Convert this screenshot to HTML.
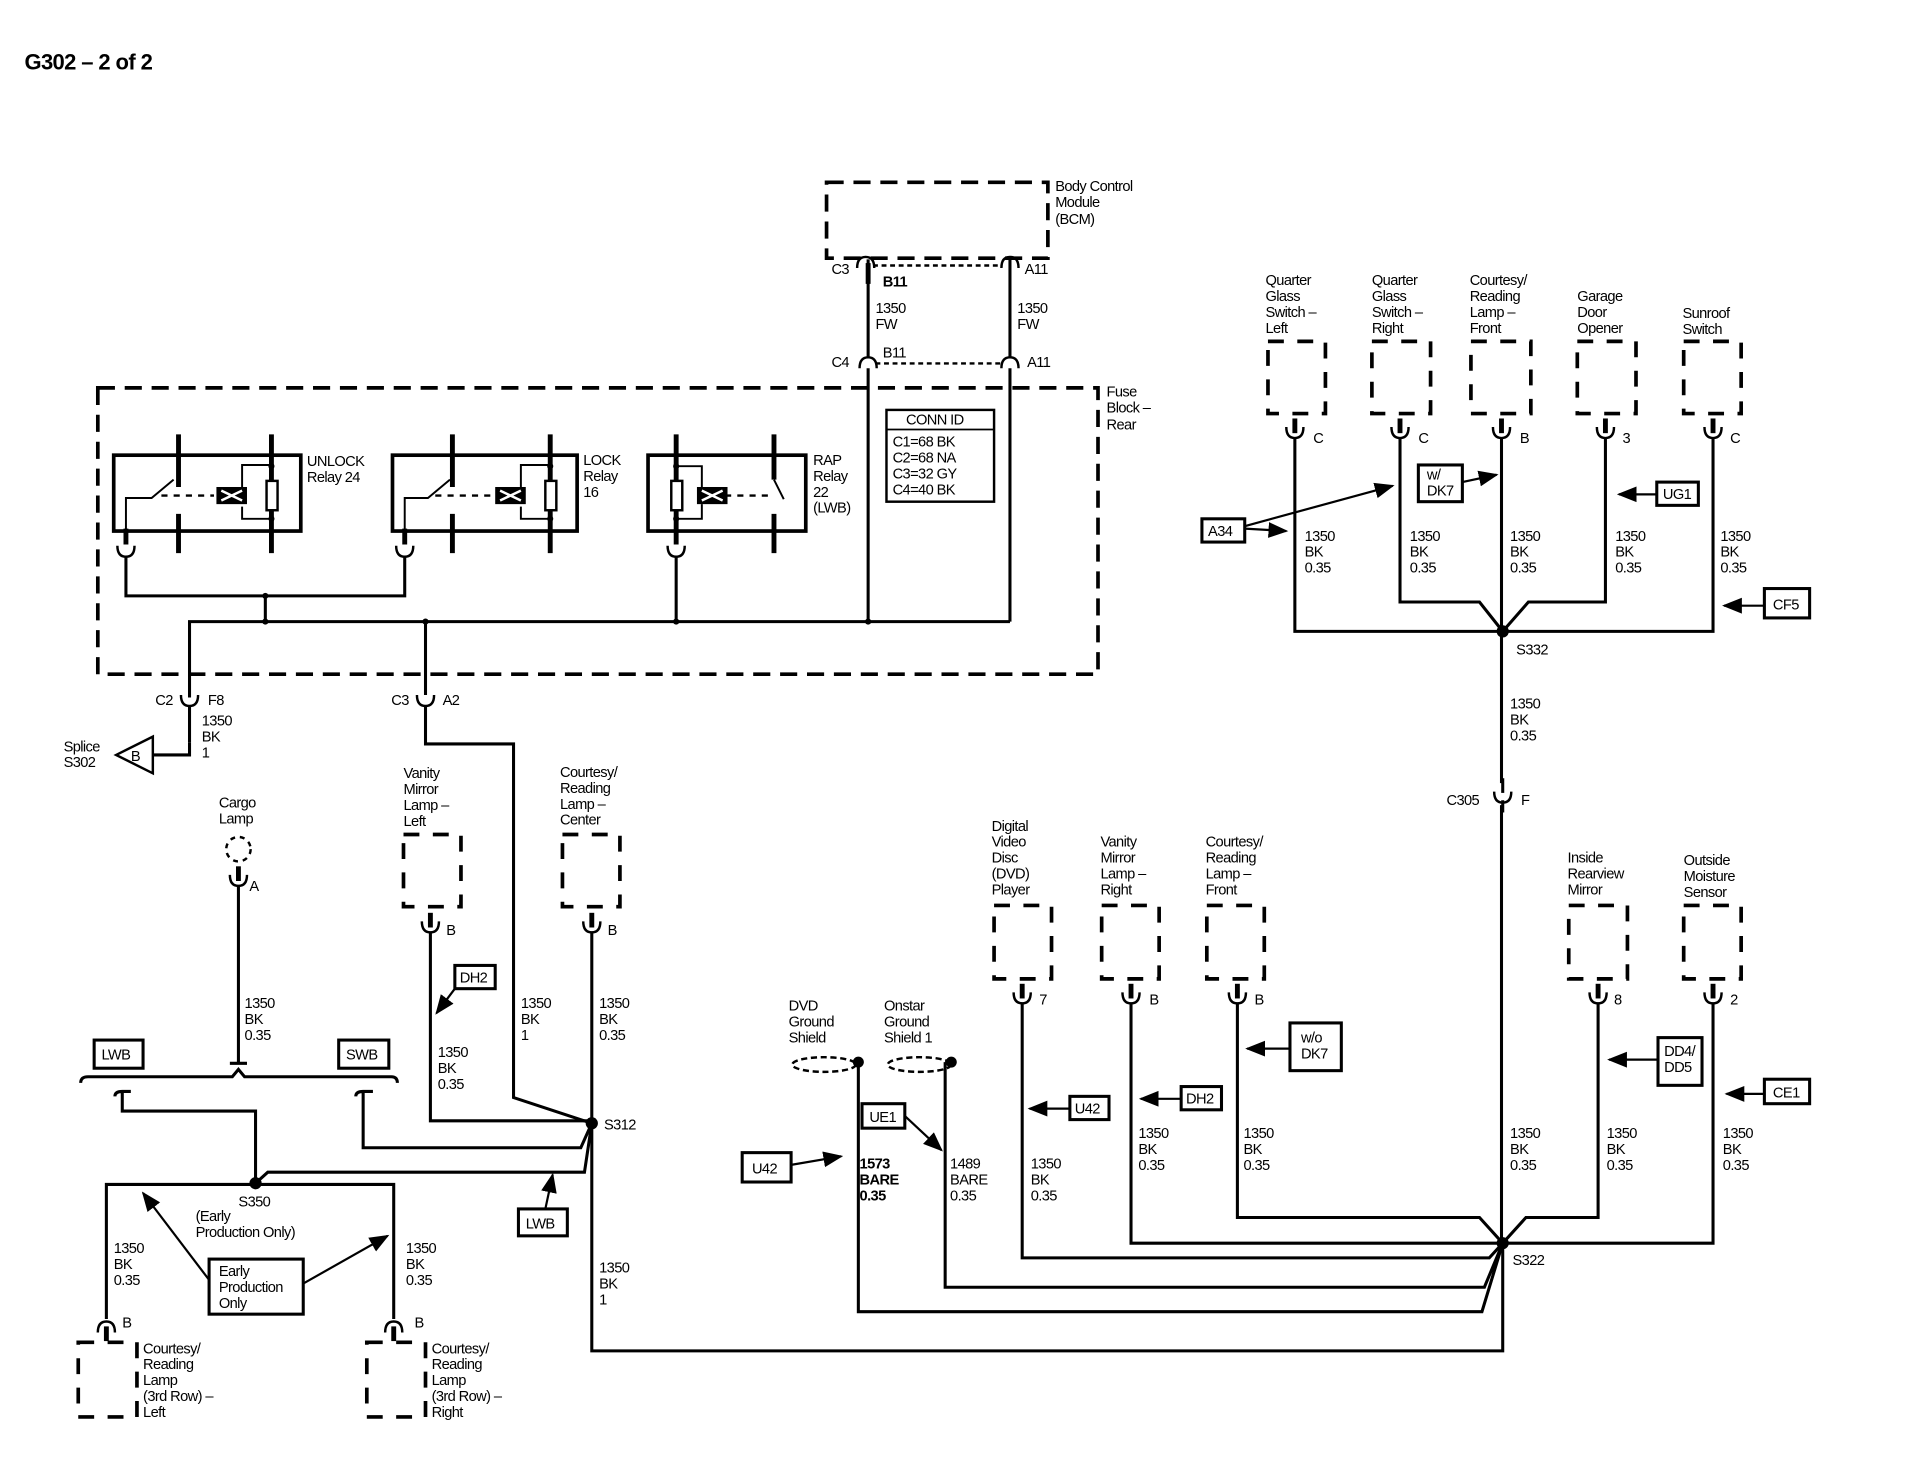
<!DOCTYPE html>
<html><head><meta charset="utf-8"><style>
html,body{margin:0;padding:0;background:#fff;}
svg{display:block}
text{font-family:"Liberation Sans",sans-serif;font-size:12px;fill:#000;letter-spacing:-0.5px}
.b{font-weight:bold}
.w{stroke:#000;stroke-width:2.5;fill:none}
.t{stroke:#000;stroke-width:1.6;fill:none}
.d{stroke:#000;stroke-width:3;fill:none;stroke-dasharray:14 8}
.c{stroke:#000;stroke-width:3;fill:none;stroke-dasharray:13 11}
</style></head><body>
<svg width="1916" height="1472" viewBox="0 0 1567 1203" preserveAspectRatio="none" xmlns="http://www.w3.org/2000/svg">
<defs>
<marker id="ar" viewBox="0 0 10 10" refX="9" refY="5" markerWidth="9" markerHeight="9" orient="auto"><path d="M0,1 L10,5 L0,9 z" fill="#000"/></marker>
<g id="cu"><line x1="0" y1="-14" x2="0" y2="-2" stroke="#000" stroke-width="4"/><path d="M-7,-7 Q-7,2 0,2 Q7,2 7,-7" stroke="#000" stroke-width="2" fill="none"/></g>
<g id="cd"><line x1="0" y1="14" x2="0" y2="2" stroke="#000" stroke-width="4"/><path d="M-7,7 Q-7,-2 0,-2 Q7,-2 7,7" stroke="#000" stroke-width="2" fill="none"/></g>
<g id="ca"><path d="M-7,4 Q-7,-5 0,-5 Q7,-5 7,4" stroke="#000" stroke-width="2" fill="none"/></g>
<g id="cv"><path d="M-7,-4 Q-7,5 0,5 Q7,5 7,-4" stroke="#000" stroke-width="2" fill="none"/></g>
</defs>
<text x="20" y="57" class="b" style="font-size:18px">G302 – 2 of 2</text>

<!-- BCM -->
<rect x="676" y="149" width="181" height="62" class="d"/>
<text x="863" y="156">Body Control</text><text x="863" y="169">Module</text><text x="863" y="183">(BCM)</text>
<use href="#ca" x="708" y="215"/><use href="#ca" x="826" y="215"/>
<text x="680" y="224">C3</text><text x="722" y="234" class="b">B11</text><text x="838" y="224">A11</text>
<line x1="714" y1="217" x2="820" y2="217" stroke="#000" stroke-width="2" stroke-dasharray="4 3"/>
<text x="716" y="256">1350</text><text x="716" y="269">FW</text>
<text x="832" y="256">1350</text><text x="832" y="269">FW</text>
<use href="#ca" x="710" y="297"/><use href="#ca" x="826" y="297"/>
<text x="680" y="300">C4</text><text x="722" y="292">B11</text><text x="840" y="300">A11</text>
<line x1="716" y1="297" x2="820" y2="297" stroke="#000" stroke-width="2" stroke-dasharray="4 3"/>
<path class="w" d="M710,212 V293 M826,212 V293 M710,301 V508 M826,301 V508"/>
<line x1="710" y1="215" x2="710" y2="232" stroke="#000" stroke-width="4"/>

<!-- Fuse block -->
<rect x="80" y="317" width="818" height="234" class="d"/>
<text x="905" y="324">Fuse</text><text x="905" y="337">Block –</text><text x="905" y="351">Rear</text>
<rect x="725" y="335" width="88" height="75" class="t" style="stroke-width:2"/>
<line x1="725" y1="351" x2="813" y2="351" stroke="#000" stroke-width="1.5"/>
<text x="741" y="347">CONN ID</text>
<text x="730" y="365">C1=68 BK</text><text x="730" y="378">C2=68 NA</text><text x="730" y="391">C3=32 GY</text><text x="730" y="404">C4=40 BK</text>

<!-- Relays -->
<g>
<rect x="93" y="372" width="153" height="62" stroke="#000" stroke-width="3" fill="none"/>
<path d="M146,355 V398 M146,420 V452 M222,355 V452" stroke="#000" stroke-width="4" fill="none"/>
<path class="t" d="M103,440 V407 H124 L142,392 M222,380 H198 V402 M198,414 V424 H222"/>
<rect x="177" y="398" width="25" height="14" fill="#000"/><path d="M181,401 L198,409 M181,409 L198,401" stroke="#fff" stroke-width="2"/>
<rect x="218" y="393" width="9" height="24" fill="#fff" stroke="#000" stroke-width="2"/>
<circle cx="222" cy="381" r="2.5"/><circle cx="222" cy="424" r="2.5"/>
<line x1="103" y1="432" x2="103" y2="445" stroke="#000" stroke-width="4"/>
<use href="#cv" x="103" y="450"/>
<text x="251" y="381">UNLOCK</text><text x="251" y="394">Relay 24</text>
</g>
<g>
<rect x="321" y="372" width="151" height="62" stroke="#000" stroke-width="3" fill="none"/>
<path d="M370,355 V398 M370,420 V452 M450,355 V452" stroke="#000" stroke-width="4" fill="none"/>
<path class="t" d="M331,440 V407 H350 L368,392 M450,380 H426 V402 M426,414 V424 H450"/>
<line x1="356" y1="405" x2="403" y2="405" stroke="#000" stroke-width="2" stroke-dasharray="5 5"/>
<rect x="405" y="398" width="25" height="14" fill="#000"/><path d="M409,401 L426,409 M409,409 L426,401" stroke="#fff" stroke-width="2"/>
<rect x="446" y="393" width="9" height="24" fill="#fff" stroke="#000" stroke-width="2"/>
<circle cx="450" cy="381" r="2.5"/><circle cx="450" cy="424" r="2.5"/>
<line x1="331" y1="432" x2="331" y2="445" stroke="#000" stroke-width="4"/>
<use href="#cv" x="331" y="450"/>
<text x="477" y="380">LOCK</text><text x="477" y="393">Relay</text><text x="477" y="406">16</text>
</g>
<line x1="132" y1="405" x2="175" y2="405" stroke="#000" stroke-width="2" stroke-dasharray="5 5"/>
<g>
<rect x="530" y="372" width="129" height="62" stroke="#000" stroke-width="3" fill="none"/>
<path d="M553,355 V445 M633,355 V392 M633,420 V452" stroke="#000" stroke-width="4" fill="none"/>
<path class="t" d="M553,381 H574 V398 M574,412 V424 H553 M633,392 L641,408"/>
<line x1="593" y1="405" x2="630" y2="405" stroke="#000" stroke-width="2" stroke-dasharray="5 5"/>
<rect x="570" y="398" width="25" height="14" fill="#000"/><path d="M574,401 L591,409 M574,409 L591,401" stroke="#fff" stroke-width="2"/>
<rect x="549" y="393" width="9" height="24" fill="#fff" stroke="#000" stroke-width="2"/>
<circle cx="553" cy="381" r="2.5"/><circle cx="553" cy="424" r="2.5"/>
<use href="#cv" x="553" y="450"/>
<text x="665" y="380">RAP</text><text x="665" y="393">Relay</text><text x="665" y="406">22</text><text x="665" y="419">(LWB)</text>
</g>
<path class="w" d="M103,455 V487 H331 V455 M217,487 V508 M155,570 V508 H826 M348,508 V568 M553,455 V508"/>
<circle cx="217" cy="487" r="2.5"/><circle cx="217" cy="508" r="2.5"/><circle cx="348" cy="508" r="2.5"/><circle cx="553" cy="508" r="2.5"/><circle cx="710" cy="508" r="2.5"/>

<!-- C2 / C3 below fuse block -->
<use href="#cv" x="155" y="572"/><text x="127" y="576">C2</text><text x="170" y="576">F8</text>
<use href="#cv" x="348" y="572"/><text x="320" y="576">C3</text><text x="362" y="576">A2</text>
<path class="w" d="M155,577 V607 M348,577 V608 H420 V897 L484,918"/>
<text x="165" y="593">1350</text><text x="165" y="606">BK</text><text x="165" y="619">1</text>
<path d="M125,602 L95,617 L125,632 Z" fill="#fff" stroke="#000" stroke-width="2"/>
<path class="w" d="M155,607 V617 H125"/>
<text x="107" y="622">B</text>
<text x="52" y="614">Splice</text><text x="52" y="627">S302</text>

<!-- Cargo lamp -->
<text x="179" y="660">Cargo</text><text x="179" y="673">Lamp</text>
<circle cx="195" cy="694" r="10" fill="none" stroke="#000" stroke-width="2" stroke-dasharray="4 4"/>
<use href="#cu" x="195" y="722"/><text x="204" y="728">A</text>
<path class="w" d="M195,724 V868"/>
<text x="200" y="824">1350</text><text x="200" y="837">BK</text><text x="200" y="850">0.35</text>
<rect x="77" y="850" width="40" height="23" class="t" style="stroke-width:2.5"/><text x="83" y="866">LWB</text>
<rect x="277" y="850" width="41" height="23" class="t" style="stroke-width:2.5"/><text x="283" y="866">SWB</text>
<path class="w" d="M66,885 Q66,880 72,880 H190 L195,874 L200,880 H320 Q325,880 325,885 M188,869 H202"/>
<path class="w" d="M94,896 Q94,892 100,892 H107 M100,892 V908 H209 V967 M291,896 Q291,892 297,892 H305 M297,892 V938 H475 L484,918"/>
<path class="w" d="M209,967 L219,958 H478 L484,918 M87,1078 V968 H322 V1078"/>
<circle cx="209" cy="967" r="5"/>
<text x="195" y="986">S350</text>
<text x="160" y="998">(Early</text><text x="160" y="1011">Production Only)</text>
<rect x="171" y="1029" width="77" height="45" class="t" style="stroke-width:2.5"/>
<text x="179" y="1043">Early</text><text x="179" y="1056">Production</text><text x="179" y="1069">Only</text>
<line x1="171" y1="1046" x2="117" y2="975" stroke="#000" stroke-width="1.8" marker-end="url(#ar)"/>
<line x1="248" y1="1049" x2="317" y2="1010" stroke="#000" stroke-width="1.8" marker-end="url(#ar)"/>
<text x="93" y="1024">1350</text><text x="93" y="1037">BK</text><text x="93" y="1050">0.35</text>
<text x="332" y="1024">1350</text><text x="332" y="1037">BK</text><text x="332" y="1050">0.35</text>
<use href="#cd" x="87" y="1082"/><text x="100" y="1085">B</text>
<use href="#cd" x="322" y="1082"/><text x="339" y="1085">B</text>
<rect x="64" y="1097" width="48" height="61" class="c"/>
<rect x="300" y="1097" width="48" height="61" class="c"/>
<text x="117" y="1106">Courtesy/</text><text x="117" y="1119">Reading</text><text x="117" y="1132">Lamp</text><text x="117" y="1145">(3rd Row) –</text><text x="117" y="1158">Left</text>
<text x="353" y="1106">Courtesy/</text><text x="353" y="1119">Reading</text><text x="353" y="1132">Lamp</text><text x="353" y="1145">(3rd Row) –</text><text x="353" y="1158">Right</text>
<rect x="424" y="988" width="40" height="22" class="t" style="stroke-width:2.5"/><text x="430" y="1004">LWB</text>
<line x1="446" y1="988" x2="452" y2="960" stroke="#000" stroke-width="1.8" marker-end="url(#ar)"/>

<!-- Vanity left / courtesy center -->
<text x="330" y="636">Vanity</text><text x="330" y="649">Mirror</text><text x="330" y="662">Lamp –</text><text x="330" y="675">Left</text>
<rect x="330" y="682" width="47" height="59" class="c"/>
<use href="#cu" x="352" y="760"/><text x="365" y="764">B</text>
<path class="w" d="M352,762 V916 H484"/>
<rect x="372" y="789" width="33" height="19" class="t" style="stroke-width:2.5"/><text x="376" y="803">DH2</text>
<line x1="372" y1="808" x2="357" y2="828" stroke="#000" stroke-width="1.8" marker-end="url(#ar)"/>
<text x="358" y="864">1350</text><text x="358" y="877">BK</text><text x="358" y="890">0.35</text>
<text x="426" y="824">1350</text><text x="426" y="837">BK</text><text x="426" y="850">1</text>
<text x="458" y="635">Courtesy/</text><text x="458" y="648">Reading</text><text x="458" y="661">Lamp –</text><text x="458" y="674">Center</text>
<rect x="460" y="682" width="47" height="59" class="c"/>
<use href="#cu" x="484" y="760"/><text x="497" y="764">B</text>
<path class="w" d="M484,762 V1104 H1229 V1016"/>
<circle cx="484" cy="918" r="5"/><text x="494" y="923">S312</text>
<text x="490" y="824">1350</text><text x="490" y="837">BK</text><text x="490" y="850">0.35</text>
<text x="490" y="1040">1350</text><text x="490" y="1053">BK</text><text x="490" y="1066">1</text>

<!-- Top right group -->
<g>
<text x="1035" y="233">Quarter</text><text x="1035" y="246">Glass</text><text x="1035" y="259">Switch –</text><text x="1035" y="272">Left</text>
<text x="1122" y="233">Quarter</text><text x="1122" y="246">Glass</text><text x="1122" y="259">Switch –</text><text x="1122" y="272">Right</text>
<text x="1202" y="233">Courtesy/</text><text x="1202" y="246">Reading</text><text x="1202" y="259">Lamp –</text><text x="1202" y="272">Front</text>
<text x="1290" y="246">Garage</text><text x="1290" y="259">Door</text><text x="1290" y="272">Opener</text>
<text x="1376" y="260">Sunroof</text><text x="1376" y="273">Switch</text>
<rect x="1037" y="279" width="47" height="59" class="c"/>
<rect x="1122" y="279" width="48" height="59" class="c"/>
<rect x="1203" y="279" width="49" height="59" class="c"/>
<rect x="1290" y="279" width="48" height="59" class="c"/>
<rect x="1377" y="279" width="47" height="59" class="c"/>
<use href="#cu" x="1059" y="356"/><text x="1074" y="362">C</text>
<use href="#cu" x="1145" y="356"/><text x="1160" y="362">C</text>
<use href="#cu" x="1228" y="356"/><text x="1243" y="362">B</text>
<use href="#cu" x="1313" y="356"/><text x="1327" y="362">3</text>
<use href="#cu" x="1401" y="356"/><text x="1415" y="362">C</text>
<path class="w" d="M1059,358 V516 H1401 V358 M1145,358 V492 H1210 L1229,516 M1228,358 V1016 M1313,358 V492 H1250 L1229,516"/>
<circle cx="1229" cy="516" r="5"/><text x="1240" y="535">S332</text>
<text x="1067" y="442">1350</text><text x="1067" y="455">BK</text><text x="1067" y="468">0.35</text>
<text x="1153" y="442">1350</text><text x="1153" y="455">BK</text><text x="1153" y="468">0.35</text>
<text x="1235" y="442">1350</text><text x="1235" y="455">BK</text><text x="1235" y="468">0.35</text>
<text x="1321" y="442">1350</text><text x="1321" y="455">BK</text><text x="1321" y="468">0.35</text>
<text x="1407" y="442">1350</text><text x="1407" y="455">BK</text><text x="1407" y="468">0.35</text>
<rect x="983" y="424" width="35" height="19" class="t" style="stroke-width:2.5"/><text x="988" y="438">A34</text>
<line x1="1018" y1="430" x2="1139" y2="397" stroke="#000" stroke-width="1.8" marker-end="url(#ar)"/>
<line x1="1018" y1="432" x2="1052" y2="434" stroke="#000" stroke-width="1.8" marker-end="url(#ar)"/>
<rect x="1160" y="380" width="36" height="30" class="t" style="stroke-width:2.5"/><text x="1167" y="392">w/</text><text x="1167" y="405">DK7</text>
<line x1="1196" y1="394" x2="1224" y2="388" stroke="#000" stroke-width="1.8" marker-end="url(#ar)"/>
<rect x="1355" y="394" width="34" height="19" class="t" style="stroke-width:2.5"/><text x="1360" y="408">UG1</text>
<line x1="1355" y1="404" x2="1324" y2="404" stroke="#000" stroke-width="1.8" marker-end="url(#ar)"/>
<rect x="1443" y="481" width="37" height="24" class="t" style="stroke-width:2.5"/><text x="1450" y="498">CF5</text>
<line x1="1443" y1="495" x2="1410" y2="495" stroke="#000" stroke-width="1.8" marker-end="url(#ar)"/>
<text x="1235" y="579">1350</text><text x="1235" y="592">BK</text><text x="1235" y="605">0.35</text>
<rect x="1224" y="640" width="10" height="18" fill="#fff"/>
<use href="#cv" x="1229" y="651"/><line x1="1229" y1="654" x2="1229" y2="664" stroke="#000" stroke-width="2.5"/><line x1="1229" y1="636" x2="1229" y2="648" stroke="#000" stroke-width="2.5"/>
<text x="1183" y="658">C305</text><text x="1244" y="658">F</text>
</g>

<!-- Lower right group -->
<g>
<text x="811" y="679">Digital</text><text x="811" y="692">Video</text><text x="811" y="705">Disc</text><text x="811" y="718">(DVD)</text><text x="811" y="731">Player</text>
<text x="900" y="692">Vanity</text><text x="900" y="705">Mirror</text><text x="900" y="718">Lamp –</text><text x="900" y="731">Right</text>
<text x="986" y="692">Courtesy/</text><text x="986" y="705">Reading</text><text x="986" y="718">Lamp –</text><text x="986" y="731">Front</text>
<text x="1282" y="705">Inside</text><text x="1282" y="718">Rearview</text><text x="1282" y="731">Mirror</text>
<text x="1377" y="707">Outside</text><text x="1377" y="720">Moisture</text><text x="1377" y="733">Sensor</text>
<rect x="813" y="740" width="47" height="60" class="c"/>
<rect x="901" y="740" width="47" height="60" class="c"/>
<rect x="987" y="740" width="47" height="60" class="c"/>
<rect x="1283" y="740" width="48" height="60" class="c"/>
<rect x="1377" y="740" width="47" height="60" class="c"/>
<use href="#cu" x="836" y="818"/><text x="850" y="821">7</text>
<use href="#cu" x="925" y="818"/><text x="940" y="821">B</text>
<use href="#cu" x="1012" y="818"/><text x="1026" y="821">B</text>
<use href="#cu" x="1307" y="818"/><text x="1320" y="821">8</text>
<use href="#cu" x="1401" y="818"/><text x="1415" y="821">2</text>
<path class="w" d="M836,820 V1028 H1218 L1229,1016 M925,820 V1016 H1401 V820 M1012,820 V995 H1210 L1229,1016 M1307,820 V995 H1248 L1229,1016"/>
<path class="w" d="M702,868 V1072 H1212 L1229,1016 M773,868 V1052 H1214 L1229,1016"/>
<circle cx="1229" cy="1016" r="5"/><text x="1237" y="1034">S322</text>
<text x="645" y="826">DVD</text><text x="645" y="839">Ground</text><text x="645" y="852">Shield</text>
<text x="723" y="826">Onstar</text><text x="723" y="839">Ground</text><text x="723" y="852">Shield 1</text>
<ellipse cx="674" cy="870" rx="26" ry="6" fill="none" stroke="#000" stroke-width="2" stroke-dasharray="5 3"/>
<ellipse cx="752" cy="870" rx="26" ry="6" fill="none" stroke="#000" stroke-width="2" stroke-dasharray="5 3"/>
<circle cx="702" cy="868" r="4.5"/><circle cx="778" cy="868" r="4.5"/>
<path class="w" d="M778,868 H773"/>
<rect x="607" y="942" width="40" height="24" class="t" style="stroke-width:2.5"/><text x="615" y="959">U42</text>
<line x1="647" y1="952" x2="688" y2="945" stroke="#000" stroke-width="1.8" marker-end="url(#ar)"/>
<rect x="705" y="902" width="35" height="20" class="t" style="stroke-width:2.5"/><text x="711" y="917">UE1</text>
<line x1="740" y1="912" x2="770" y2="940" stroke="#000" stroke-width="1.8" marker-end="url(#ar)"/>
<text x="703" y="955" class="b">1573</text><text x="703" y="968" class="b">BARE</text><text x="703" y="981" class="b">0.35</text>
<text x="777" y="955">1489</text><text x="777" y="968">BARE</text><text x="777" y="981">0.35</text>
<text x="843" y="955">1350</text><text x="843" y="968">BK</text><text x="843" y="981">0.35</text>
<rect x="875" y="896" width="32" height="19" class="t" style="stroke-width:2.5"/><text x="879" y="910">U42</text>
<line x1="875" y1="906" x2="842" y2="906" stroke="#000" stroke-width="1.8" marker-end="url(#ar)"/>
<rect x="966" y="888" width="33" height="19" class="t" style="stroke-width:2.5"/><text x="970" y="902">DH2</text>
<line x1="966" y1="898" x2="933" y2="898" stroke="#000" stroke-width="1.8" marker-end="url(#ar)"/>
<rect x="1055" y="836" width="42" height="39" class="t" style="stroke-width:2.5"/><text x="1064" y="852">w/o</text><text x="1064" y="865">DK7</text>
<line x1="1055" y1="857" x2="1020" y2="857" stroke="#000" stroke-width="1.8" marker-end="url(#ar)"/>
<text x="931" y="930">1350</text><text x="931" y="943">BK</text><text x="931" y="956">0.35</text>
<text x="1017" y="930">1350</text><text x="1017" y="943">BK</text><text x="1017" y="956">0.35</text>
<rect x="1356" y="848" width="36" height="39" class="t" style="stroke-width:2.5"/><text x="1361" y="863">DD4/</text><text x="1361" y="876">DD5</text>
<line x1="1356" y1="866" x2="1316" y2="866" stroke="#000" stroke-width="1.8" marker-end="url(#ar)"/>
<rect x="1443" y="882" width="37" height="20" class="t" style="stroke-width:2.5"/><text x="1450" y="897">CE1</text>
<line x1="1443" y1="894" x2="1412" y2="894" stroke="#000" stroke-width="1.8" marker-end="url(#ar)"/>
<text x="1235" y="930">1350</text><text x="1235" y="943">BK</text><text x="1235" y="956">0.35</text>
<text x="1314" y="930">1350</text><text x="1314" y="943">BK</text><text x="1314" y="956">0.35</text>
<text x="1409" y="930">1350</text><text x="1409" y="943">BK</text><text x="1409" y="956">0.35</text>
</g>
</svg>
</body></html>
